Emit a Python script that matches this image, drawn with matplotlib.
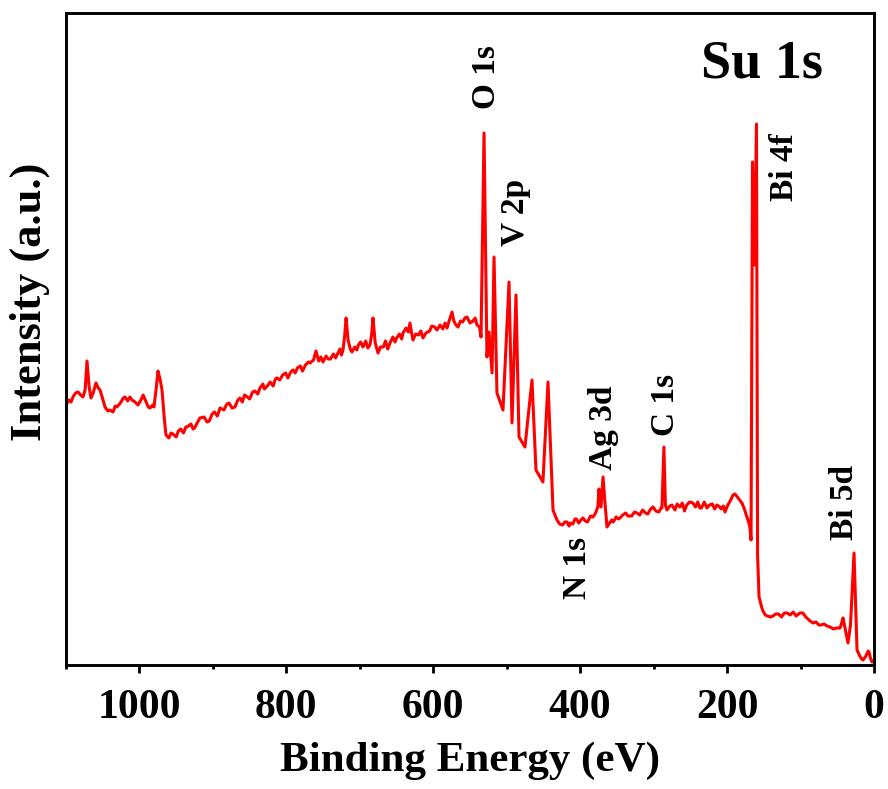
import matplotlib
matplotlib.use("Agg")
import matplotlib.pyplot as plt
from matplotlib.ticker import MultipleLocator

# Binding energy (eV) and intensity (a.u.)
binding_energy = [
    1100, 1096, 1093, 1090.5, 1087, 1083.7, 1080, 1076.9, 1074, 1071.4,
    1068.5, 1066, 1063, 1059.2, 1056, 1053.7, 1050, 1046.9, 1043, 1040.1,
    1036, 1033, 1030.6, 1026, 1022, 1019.7, 1016, 1013, 1010.1, 1006,
    1002, 998, 995, 991, 988, 985.6, 982, 980.2, 977, 974.8,
    972, 969.3, 966, 963.9, 960, 957, 954.3, 950, 947, 944,
    940, 937, 935.3, 930, 927, 925, 920, 917.6, 912, 908,
    905, 901, 898, 894, 890.3, 885, 881, 878, 874, 870,
    866, 863.1, 860, 857, 853, 850, 846, 843, 839, 835.9,
    832, 830, 826, 822, 818, 815, 812.7, 809, 805, 801,
    798, 794, 790.9, 788, 785, 781, 778, 774, 770, 767.8,
    763, 759.7, 756, 753, 750.1, 746, 743, 740, 736, 733,
    731.1, 727, 725, 722.9, 720.5, 718.7, 716, 713, 710.6, 707,
    704, 702, 699, 695.7, 692, 689, 686.2, 684, 682.1, 679,
    675.2, 672, 668, 665, 662, 658.9, 655, 652, 650, 646,
    643, 641.2, 637, 634, 631.7, 629.5, 627.6, 624, 620, 617,
    614, 610, 605, 602, 598, 595, 590.8, 587, 584, 581.3,
    578, 574.5, 572, 569, 566.3, 563, 560, 557, 554.1, 550,
    546, 543, 540.5, 537, 535, 530.9, 526.9, 524.1, 520.0, 517.3,
    513.3, 505.1, 496.9, 492.8, 487.4, 483.3, 475.2, 465.6, 460.2, 450.7,
    443.8, 437.0, 431.6, 428, 424, 421, 418, 415, 413.9, 410,
    407, 405, 402, 399, 396.2, 393, 390, 386, 382.5, 379,
    376, 374.4, 373, 371.7, 368.9, 366, 363.5, 360, 357, 355,
    351, 348, 345.8, 342, 338, 335, 330, 326, 322.7, 319,
    315, 311, 308, 304, 300.9, 297, 293, 290, 288.7, 286,
    284, 281.9, 278, 275, 271, 268, 264.2, 261, 258, 255,
    251, 246.5, 243, 240, 237, 235, 231, 227.4, 224, 220,
    217, 213.8, 210, 208, 205, 202.9, 199, 195, 192, 189.3,
    186, 184, 181, 179.7, 176, 173, 171.5, 169, 167.4, 165.4,
    162.7, 160.0, 158.5, 156.5, 153, 151.1, 148, 145, 141, 137.5, 134,
    130, 126, 122, 118.4, 114, 110, 106, 101, 96.7, 93,
    90, 87, 83, 79, 75, 72, 68, 64, 60, 55,
    51, 46.3, 44, 42.2, 39, 35.4, 32, 29.9, 27.2, 25,
    23.1, 20, 17, 14.9, 11, 8, 6.8, 4.5, 2.7, 0,
]
intensity = [
    260, 265, 263, 268, 272, 273, 270, 268, 275, 304,
    278, 267, 272, 282, 277, 275, 266, 258, 254, 255,
    253, 259, 258, 262, 267, 268, 264, 268, 265, 263,
    260, 265, 270, 263, 258, 257, 260, 258, 278, 294,
    286, 275, 245, 230, 227, 232, 231, 228, 234, 236,
    232, 238, 238, 241, 236, 237, 244, 247, 248, 243,
    244, 251, 253, 249, 257, 255, 261, 262, 257, 258,
    265, 267, 263, 270, 268, 266, 273, 274, 271, 277,
    281, 276, 279, 283, 279, 286, 287, 285, 290, 292,
    287, 293, 295, 292, 297, 299, 294, 300, 303, 302,
    305, 314, 304, 308, 303, 309, 306, 306, 311, 307,
    310, 316, 310, 315, 330, 347, 325, 316, 313, 318,
    315, 320, 323, 318, 324, 317, 320, 330, 347, 322,
    312, 318, 318, 324, 316, 322, 328, 323, 327, 331,
    326, 332, 337, 333, 342, 332, 325, 331, 330, 334,
    327, 332, 334, 339, 338, 335, 340, 336, 342, 337,
    345, 353, 344, 340, 338, 344, 343, 347, 348, 342,
    344, 347, 340, 338, 328, 532, 308, 333, 292, 408,
    272, 255, 383, 242, 370, 228, 218, 285, 195, 183,
    283, 155, 145, 141, 140, 143, 143, 139, 142, 141,
    146, 146, 142, 145, 147, 144, 143, 149, 148, 152,
    158, 176, 160, 158, 188, 160, 138, 142, 145, 143,
    148, 146, 147, 150, 152, 149, 149, 153, 152, 150,
    155, 152, 151, 156, 158, 154, 153, 157, 157, 218,
    160, 155, 159, 160, 155, 161, 158, 162, 154, 160,
    163, 162, 158, 163, 157, 157, 163, 157, 160, 161,
    156, 160, 158, 156, 159, 153, 160, 165, 170, 171,
    168, 166, 163, 162, 155, 148, 145, 138, 125, 503,
    400, 541, 110, 68, 58, 54, 50, 49, 48, 49, 51,
    51, 48, 52, 52, 50, 53, 49, 52, 52, 48,
    46, 44, 42, 43, 40, 40, 41, 39, 38, 36,
    37, 37, 42, 47, 35, 22, 40, 72, 112, 60,
    15, 10, 6, 5, 9, 14, 13, 6, 3, 5,
]

peak_labels = ["O 1s", "V 2p", "Bi 4f", "N 1s", "Ag 3d", "C 1s", "Bi 5d"]
label_be = [528.2, 488.7, 121.2, 404.3, 368.9, 284.5, 39.5]
label_int = [588, 453, 498, 97, 237, 260, 163]

sample_name = "Su 1s"
x_ticks = [1000, 800, 600, 400, 200, 0]

plt.rcParams['font.family'] = ['Liberation Serif', 'DejaVu Serif']
plt.rcParams['font.weight'] = 'bold'

fig = plt.figure(figsize=(8.88, 7.89), dpi=100)
ax = fig.add_axes([66/888, 1 - 665/789, 808/888, 652/789])

ax.plot(binding_energy, intensity, color='#ff0000', lw=2.2, solid_joinstyle='round')

ax.set_xlim(1100, 0)
ax.set_ylim(0, 652)
ax.set_xticks(x_ticks)
ax.xaxis.set_minor_locator(MultipleLocator(100))
ax.set_yticks([])

for s in ax.spines.values():
    s.set_linewidth(2.1)

ax.tick_params(axis='x', which='major', direction='out', length=6, width=2.0,
               labelsize=30, pad=11)
ax.tick_params(axis='x', which='minor', direction='out', length=3, width=2.0)
for lab in ax.get_xticklabels():
    lab.set_fontweight('bold')

ax.set_xlabel("Binding Energy (eV)", fontsize=31, fontweight='bold', labelpad=11)
fig.text(30/888, 1 - 302/789, "Intensity (a.u.)", rotation=90, ha='center',
         va='center', fontsize=32, fontweight='bold')

for txt, xb, yi in zip(peak_labels, label_be, label_int):
    ax.text(xb, yi, txt, rotation=90, ha='center', va='center', fontsize=24,
            fontweight='bold')

ax.text(152.5, 600, sample_name, ha='center', va='center', fontsize=39,
        fontweight='bold')

fig.savefig("out.png", dpi=100)
